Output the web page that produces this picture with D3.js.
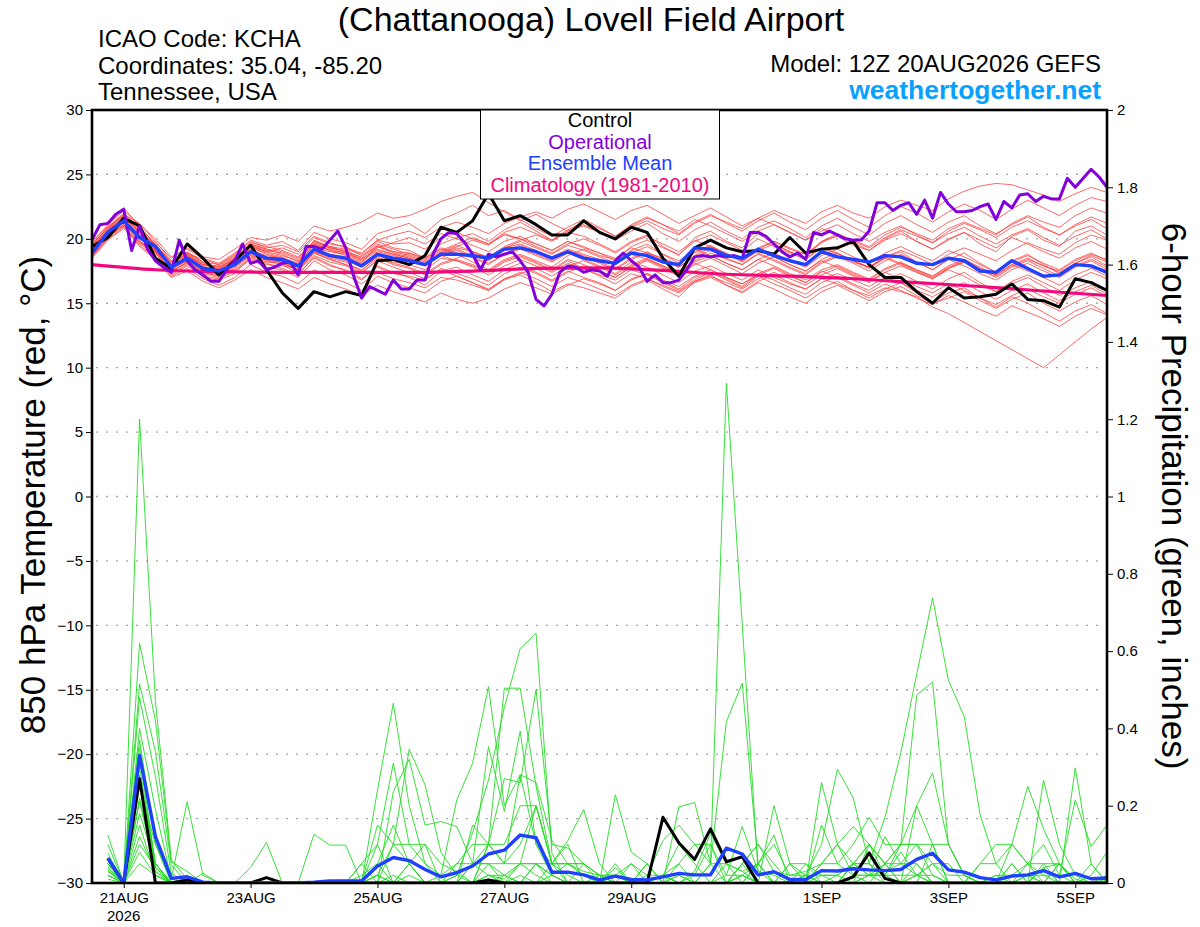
<!DOCTYPE html>
<html><head><meta charset="utf-8">
<script src="https://cdn.jsdelivr.net/npm/d3@7"></script>
<style>
body{margin:0;background:#fff}
svg{display:block}
text{font-family:"Liberation Sans",Arial,Helvetica,sans-serif}
</style>
</head><body>
<svg id="c" width="1200" height="927"></svg>
<script>
// ---------- DATA ----------
const runStart = "2026-08-20T12:00:00Z";
const stepHours = 6;          // ensemble output interval
const opStepHours = 3;        // operational output interval

const controlTemp = [19.4,20.1,21.6,21.0,18.5, 17.7,19.6,18.5,17.2,18.3, 19.5,17.6,15.8,14.6,15.9, 15.5,15.9,15.6,18.3,18.4,
  18.0,18.7,20.9,20.5,21.4, 23.5,21.4,21.8,21.1,20.3, 20.3,21.4,20.5,20.0,20.9, 20.5,18.5,17.1,19.3,19.9,
  19.3,19.0,19.1,18.8,20.1, 18.9,19.2,19.3,19.8,18.0, 17.0,17.0,15.9,15.0,16.2, 15.4,15.5,15.7,16.5,15.3, 15.2,14.7,16.9,16.6,16.0];

const operationalTemp = [19.9,21.1,21.2,21.9,22.3,19.1,21.0,19.2,18.3,17.8,17.4,19.9,18.3,17.6,17.2,16.7,16.7,17.6,18.3,19.6,
  18.1,18.3,17.6,17.8,18.1,18.2,17.2,19.4,19.4,19.2,19.9,20.6,19.3,17.1,15.4,16.3,16.0,15.7,16.8,16.1,
  16.1,16.8,16.8,18.8,20.0,20.5,20.4,19.7,18.8,17.6,18.8,18.6,18.8,19.0,18.3,17.4,15.3,14.8,15.7,17.4,
  17.9,17.8,17.4,17.6,17.5,17.1,18.3,18.9,18.3,17.8,16.7,17.2,16.6,16.6,16.8,17.6,18.6,18.7,18.6,18.7,
  18.6,18.7,18.5,20.5,20.5,20.2,19.6,19.0,18.6,18.9,18.4,20.5,20.3,20.6,20.3,20.0,19.9,19.9,20.6,22.8,
  22.8,22.2,22.6,22.8,21.9,23.0,21.6,23.6,22.7,22.1,22.1,22.2,22.5,22.7,21.5,22.9,22.4,23.4,23.5,22.9,
  23.3,23.1,23.1,24.7,24.0,24.7,25.4,24.8,24.0];

const meanTemp = [18.9,20.5,21.4,20.1,19.4, 17.8,18.5,17.7,17.5,18.0, 19.0,18.5,18.4,17.9,19.2, 18.7,18.5,17.9,18.8,18.5,
  18.3,18.0,18.8,18.8,18.7, 18.5,19.2,19.3,19.0,18.5, 19.0,18.5,18.3,18.1,18.9, 18.7,18.2,18.0,19.3,19.2,
  18.7,18.5,19.2,18.7,18.3, 18.0,19.0,18.6,18.4,18.2, 18.7,18.6,18.1,18.0,18.5, 18.3,17.5,17.4,18.3,17.7, 17.1,17.2,18.0,17.9,17.4];

// climatology, one value per day at 12Z
const climDaily = [18.0,17.6,17.45,17.4,17.4,17.4,17.5,17.7,17.75,17.55,17.25,17.1,16.9,16.6,16.3,15.95,15.6];

const memberTemp = [
 [19.5,20.8,21.9,21.2,19.8, 18.3,19.0,18.2,17.6,18.4, 19.6,19.2,18.8,18.2,19.9, 19.4,19.0,18.6,19.8,19.3, 19.1,18.5,19.6,20.1,20.4, 19.8,20.7,21.3,20.6,19.9, 20.5,20.2,19.6,19.0,19.8, 20.3,19.4,18.7,20.1,20.6, 19.8,19.3,20.4,19.6,19.0, 18.5,19.8,20.2,19.5,19.1, 20.0,20.6,19.8,19.2,19.9, 20.5,19.6,19.0,20.2,20.7, 19.9,19.4,20.6,21.0,20.3],
 [18.6,20.2,21.0,19.6,18.9, 17.2,17.9,17.1,16.9,17.5, 18.4,17.8,17.6,17.0,18.3, 17.6,17.2,16.5,17.4,16.9, 16.6,16.2,17.0,16.8,16.4, 16.0,16.9,17.2,16.6,15.9, 16.5,16.2,15.8,15.4,16.3, 16.8,16.1,15.5,16.7,17.2, 16.4,15.8,16.6,16.1,15.5, 15.0,15.9,16.4,15.8,15.2, 15.9,16.3,15.6,15.0,15.4, 15.9,15.2,14.6,15.3,15.8, 15.0,14.4,15.1,15.6,14.9],
 [19.8,21.0,22.4,21.0,19.5, 18.0,18.9,18.4,18.0,18.8, 19.9,19.5,19.8,19.1,20.5, 20.0,19.7,19.2,20.4,20.8, 21.2,20.4,21.5,22.0,22.6, 21.8,22.2,21.5,20.8,20.2, 20.9,21.5,20.9,20.2,21.0, 21.6,21.1,20.4,21.3,21.9, 21.2,20.6,21.4,22.0,21.3, 20.7,21.6,22.2,21.5,20.9, 21.8,22.5,22.0,21.3,22.1, 22.7,22.2,21.5,22.3,23.0, 22.4,21.8,22.6,23.2,22.9],
 [19.2,20.4,21.2,19.9,18.5, 17.5,18.1,17.0,16.8,17.3, 18.6,18.1,17.7,17.2,18.6, 18.0,17.5,16.8,17.9,17.4, 17.0,16.4,17.5,17.8,17.2, 16.7,17.6,18.1,17.4,16.8, 17.5,17.0,16.6,16.0,16.9, 17.3,16.7,16.1,17.0,17.4, 16.8,16.2,17.1,16.5,16.0, 15.4,16.2,16.7,16.0,15.4, 16.1,16.6,15.8,15.1,15.8, 16.2,15.4,14.7,15.5,15.0, 14.3,13.6,14.4,14.9,14.2],
 [19.0,20.6,21.6,20.5,19.6, 18.0,18.6,18.0,17.9,18.6, 19.5,19.0,19.3,18.8,20.1, 19.6,19.4,18.7,19.4,18.9, 18.6,18.1,18.9,19.4,19.9, 19.5,20.4,20.0,19.6,19.1, 19.8,19.4,18.9,18.3,19.1, 19.6,18.8,18.1,19.0,19.5, 18.8,18.2,19.1,18.6,18.0, 17.5,18.4,18.9,18.3,17.7, 18.5,19.0,18.2,17.6,18.4, 18.9,18.1,17.4,18.3,18.8, 18.0,17.3,18.1,18.6,17.9],
 [18.7,20.1,21.3,20.0,19.2, 17.6,18.3,17.5,17.3,17.9, 18.7,18.4,18.2,17.5,18.7, 18.2,17.9,17.3,18.4,18.2, 18.0,17.6,18.5,18.3,17.9, 17.4,18.2,18.6,18.1,17.5, 18.3,17.7,17.2,16.8,17.6, 17.2,16.6,16.0,16.8,17.4, 16.9,16.3,17.2,16.8,16.2, 15.7,16.6,17.1,16.5,16.0, 16.8,17.3,16.7,16.1,16.9, 17.4,16.6,15.9,16.5,17.0, 16.3,15.6,16.2,16.7,16.0],
 [19.3,20.7,21.8,20.4,19.0, 17.9,18.7,17.8,17.2,18.1, 19.2,18.6,18.1,17.6,19.0, 18.5,18.2,17.5,18.7,18.3, 18.9,18.4,19.3,18.9,18.5, 18.0,18.8,19.2,18.7,18.2, 18.9,18.4,17.9,17.3,18.2, 17.8,17.2,16.6,17.5,17.9, 17.3,16.8,17.6,17.0,16.5, 16.1,16.9,16.5,16.0,15.6, 16.2,15.9,15.5,14.7,14.2, 13.5,12.8,12.1,11.4,10.7, 10.0,11.0,12.0,13.0,13.9],
 [19.6,20.9,22.0,20.8,19.7, 18.5,19.3,18.6,18.4,19.2, 20.1,19.9,20.3,19.8,21.0, 20.6,20.9,21.3,22.0,21.6, 21.8,22.3,22.9,23.3,23.6, 22.8,22.1,21.4,21.9,21.2, 20.6,21.1,20.5,19.9,20.6, 21.2,20.4,19.8,20.7,21.3, 20.6,20.0,20.9,21.4,20.8, 20.1,21.0,21.6,20.9,20.3, 21.2,21.8,21.1,20.5,21.3, 21.8,21.0,20.4,21.1,21.7, 20.9,20.3,21.0,21.5,20.8],
 [19.1,20.5,21.5,20.3,19.3, 17.7,18.4,17.6,17.4,18.0, 19.1,18.7,18.5,18.0,19.3, 19.0,18.8,18.2,19.1,18.8, 18.5,18.0,18.9,19.3,19.0, 18.6,19.4,19.9,20.3,19.8, 20.6,21.0,20.5,20.0,20.9, 21.4,20.8,20.3,21.2,21.8, 21.3,20.8,21.6,22.2,21.7, 21.2,22.1,22.6,22.0,21.6, 22.5,23.0,22.6,22.2,23.1, 23.7,24.1,24.3,24.2,23.8, 23.4,22.9,23.5,24.0,23.6],
 [18.9,20.3,21.1,19.8,19.1, 17.4,18.2,17.3,17.0,17.6, 18.5,18.0,17.9,17.7,19.0, 18.6,18.3,17.8,18.6,18.1, 17.8,17.3,18.1,18.5,18.9, 18.4,19.3,19.6,19.1,18.6, 19.2,18.8,18.4,18.0,18.8, 18.4,17.9,17.4,18.3,18.9, 18.4,18.0,18.9,18.4,17.8, 17.3,18.2,18.7,18.2,17.8, 18.6,18.1,17.6,17.1,17.9, 18.4,17.8,17.2,18.0,17.5, 17.0,16.4,17.2,17.7,17.1],
 [19.4,20.6,21.7,20.6,19.4, 17.6,18.8,17.9,17.5,18.2, 19.3,18.9,18.6,18.0,19.6, 19.1,18.7,18.1,19.5,19.0, 18.9,18.5,19.2,18.8,18.2, 17.6,18.4,18.8,18.3,17.8, 18.7,19.2,18.7,18.4,19.4, 19.9,19.3,18.8,19.8,20.3, 19.7,19.1,20.0,19.4,18.9, 18.4,19.3,18.9,18.3,17.8, 18.5,18.0,17.4,16.9,17.6, 17.1,16.4,15.9,16.7,17.2, 16.6,16.0,16.8,17.4,16.9],
 [18.5,19.9,20.8,19.5,18.6, 17.1,17.7,16.9,16.4,17.0, 18.0,17.4,17.1,16.5,17.6, 17.0,16.6,16.0,17.1,16.6, 16.2,15.8,16.7,17.1,16.6, 16.0,16.8,17.3,17.7,17.1, 17.9,18.3,17.8,17.2,18.0, 18.5,17.9,17.3,18.2,18.7, 18.1,17.6,18.4,17.9,17.3, 16.8,17.6,18.0,17.4,16.9, 17.7,18.2,17.6,17.1,17.8, 18.3,17.7,17.2,18.0,18.5, 17.9,17.4,18.1,18.7,18.2],
 [19.7,21.1,22.2,21.1,20.0, 18.6,19.2,18.5,18.1,18.9, 19.8,19.3,19.5,19.0,20.2, 19.7,19.3,18.9,19.9,19.6, 19.7,19.2,20.1,20.5,20.0, 19.6,20.3,20.0,19.4,18.9, 19.6,20.0,19.5,18.9,19.7, 20.2,19.6,19.0,19.9,19.4, 18.8,18.4,19.3,19.8,19.2, 18.8,19.7,20.3,19.8,19.3, 20.1,20.7,20.2,19.7,20.6, 21.2,20.7,20.1,20.9,21.4, 20.8,20.3,21.1,21.7,21.2],
 [18.8,20.0,20.9,19.7,19.0, 17.3,18.0,17.4,17.2,17.8, 18.8,18.3,18.0,17.3,18.5, 17.9,17.6,16.9,17.8,17.3, 17.1,16.8,17.7,17.3,16.9, 16.4,17.3,17.8,17.3,16.7, 17.4,17.9,17.5,17.0,17.9, 18.4,17.8,17.2,18.1,17.6, 17.0,16.5,17.3,17.8,17.2, 16.6,17.5,17.0,16.4,15.8, 16.5,16.0,15.4,14.9,15.6, 15.1,14.5,14.0,14.8,14.3, 13.8,13.2,14.0,14.6,14.1],
 [19.3,20.4,21.5,20.2,19.4, 17.9,18.5,17.6,17.7,18.3, 19.4,18.8,18.5,18.1,19.5, 19.1,18.9,18.4,19.3,19.7, 20.1,19.6,20.4,20.0,19.5, 19.0,19.8,20.2,19.6,19.1, 19.8,19.3,18.9,18.5,19.3, 18.9,18.5,18.0,18.9,19.4, 18.9,18.3,19.1,19.6,19.0, 18.5,19.3,18.8,18.3,17.8, 18.6,19.1,18.6,18.0,18.8, 19.3,18.8,18.3,19.1,19.7, 19.2,18.8,19.7,20.3,19.9],
 [19.0,20.5,21.4,20.0,19.2, 17.7,18.4,17.7,17.3,17.9, 18.9,18.3,18.2,17.8,19.1, 18.7,18.4,17.9,18.9,18.5, 18.2,17.9,18.7,18.3,17.8, 17.2,17.9,18.4,17.9,17.4, 18.1,17.7,17.1,16.5,17.3, 16.9,16.4,15.9,16.7,17.1, 16.6,16.1,16.9,17.4,16.9, 16.4,17.2,17.7,17.1,16.6, 17.4,17.9,17.4,16.9,17.7, 18.2,17.6,17.1,17.9,18.4, 17.9,17.5,18.3,18.8,18.4],
 [19.5,20.9,21.9,20.7,19.6, 18.2,18.9,18.1,17.8,18.5, 19.5,19.1,18.9,18.4,19.7, 19.3,19.1,18.5,19.6,19.2, 18.8,18.3,19.1,19.6,20.1, 19.6,20.5,20.9,20.4,19.9, 20.7,21.3,20.8,20.2,21.1, 21.7,21.1,20.6,21.5,21.0, 20.4,19.8,20.6,21.1,20.5, 19.9,20.8,20.3,19.7,19.1, 19.9,20.4,19.8,19.2,20.0, 20.5,19.9,19.3,20.1,19.6, 19.0,18.5,19.3,19.8,19.2],
 [18.6,20.0,21.1,19.8,19.0, 17.5,18.2,17.4,17.1,17.7, 18.7,18.2,18.1,17.6,18.9, 18.4,18.0,17.4,18.3,17.8, 17.4,16.9,17.6,17.1,16.6, 16.1,16.9,17.4,16.9,16.3, 17.0,16.6,16.1,15.6,16.4, 16.9,16.3,15.8,16.6,17.0, 16.4,15.9,16.7,17.2,16.6, 16.1,16.9,17.3,16.8,16.3, 17.0,16.6,16.0,15.5,16.2, 16.6,15.9,15.3,16.0,16.5, 15.8,15.2,15.9,16.4,15.7],
 [19.2,20.6,21.7,20.5,19.5, 18.1,18.8,18.0,17.7,18.5, 19.6,19.2,19.0,18.5,19.8, 19.3,19.0,18.4,19.4,19.0, 18.7,18.2,19.0,19.5,19.0, 18.5,19.3,19.8,19.3,18.8, 19.5,19.1,18.6,18.1,18.9, 19.4,18.8,18.3,19.2,18.7, 18.1,17.6,18.4,18.9,18.3, 17.8,18.7,19.2,18.6,18.1, 18.9,19.4,18.8,18.3,19.1, 18.6,18.0,17.4,18.2,18.7, 18.1,17.6,18.4,18.9,18.3],
 [19.1,20.3,21.3,20.1,19.1, 17.8,18.5,17.8,17.6,18.2, 19.2,18.6,18.3,17.9,19.2, 18.8,18.6,18.0,19.0,18.7, 18.4,17.9,18.8,19.2,18.7, 18.3,19.1,19.5,19.0,18.4, 19.1,18.7,18.2,17.7,18.5, 19.0,18.4,17.8,18.6,19.1, 18.5,18.0,18.8,18.3,17.7, 17.2,18.1,18.6,18.1,17.5, 18.3,18.8,18.2,17.6,18.4, 17.9,17.3,16.8,17.6,18.1, 17.5,17.0,17.8,18.3,17.6],
 [19.0,20.2,21.0,19.4,18.4, 17.0,17.5,16.7,16.2,16.8, 17.6,17.0,16.6,16.1,17.0, 16.5,16.1,15.6,16.4,15.9, 15.5,15.1,15.8,15.3,15.0, 15.4,16.1,16.6,16.2,15.7, 16.4,16.9,16.5,16.0,16.8, 17.3,16.8,16.3,17.1,17.6, 17.0,16.5,17.2,17.7,17.1, 16.6,17.4,17.9,17.3,16.8, 17.6,18.1,17.5,17.0,17.7, 18.2,17.6,17.0,17.8,18.3, 17.7,17.1,17.9,18.4,17.8],
 [19.4,20.7,21.6,20.3,19.3, 18.0,18.9,18.2,18.0,18.7, 19.7,19.4,19.1,18.6,19.8, 19.4,19.2,18.8,19.9,20.3, 20.6,20.1,20.9,21.3,20.9, 20.4,21.2,21.7,22.1,21.6, 22.3,22.7,22.1,21.5,22.2, 22.6,21.9,21.2,21.8,22.4, 21.7,21.0,21.6,21.1,20.5, 19.9,20.6,21.1,20.4,19.8, 20.5,21.0,20.3,19.7,20.4, 20.9,20.2,19.6,20.3,20.8, 20.1,19.5,20.2,20.7,20.0],
 [18.9,20.4,21.5,20.2,19.3, 17.8,18.3,17.5,17.5,18.0, 19.0,18.5,18.3,17.6,18.9, 18.4,18.0,17.6,18.5,18.0, 17.7,17.2,18.0,18.4,18.0, 17.5,18.3,18.7,18.2,17.6, 18.4,18.0,17.5,17.0,17.8, 18.3,17.7,17.1,18.0,18.5, 17.9,17.3,18.1,18.6,18.0, 17.5,18.3,17.8,17.2,16.7, 17.4,16.9,16.3,15.8,16.5, 16.0,15.4,14.9,15.6,16.1, 15.5,15.0,15.7,16.2,15.5],
 [19.6,20.8,21.8,20.6,19.5, 18.2,18.7,18.0,17.8,18.4, 19.4,19.0,18.7,18.3,19.6, 19.2,18.9,18.3,19.2,18.8, 18.5,18.0,18.7,19.1,18.6, 18.1,18.8,19.3,18.8,18.3, 19.0,18.6,18.1,17.6,18.4, 18.9,18.3,17.8,18.7,19.3, 18.8,18.3,19.2,19.8,19.3, 18.8,19.8,20.4,19.9,19.4, 20.3,20.9,20.4,19.9,20.8, 21.3,20.8,20.3,21.2,21.8, 21.3,20.9,21.8,22.4,22.0]
];

// 6-hour precipitation (inches), valid 18Z 20AUG onward
const controlPrecip = [.064,0,.27,0,0,.008,0,0, 0,0,.014,0,0,0,0,0, 0,0,0,0,0,0,0,0, .008,0,0,0,0,0,0,0,
  0,0,0,.17,.104,.061,.14,.055, .068,0,0,0,0,0,0,.016, .078,.012,0,0,0,0,0,0, 0,0,0,0,0,0,0,0];
const meanPrecip = [.064,0,.33,.12,.012,.016,.002,0, 0,0,0,0,0,.002,.005,.005, .005,.044,.066,.058,.035,.016,.027,.044,
  .075,.085,.124,.117,.028,.028,.021,.008, .018,.009,.008,.016,.025,.021,.021,.09, .075,.021,.029,.009,.009,.032,.031,.037,
  .034,.032,.035,.061,.077,.034,.028,.014, .008,.018,.021,.032,.016,.025,.011,.013];
const memberPrecip = [
 [.05,0,1.2,.47,.06,.01,0,0, 0,0,0,0,0,0,0,0, 0,.02,.1,.05,0,0,.02,0, .1,.05,.28,.1,.02,0,0,0, 0,0,0,.02,.1,.05,0,.05, .03,0,0,0,0,.05,.1,.02, 0,0,0,.2,.1,.1,.02,0, 0,0,.05,.1,.02,0,0,0],
 [.124,0,.62,.42,.055,.03,0,0, 0,0,0,0,0,0,0,0, 0,.24,.465,.2,.05,0,0,0, .1,.504,.504,.25,.05,.02,0,0, 0,0,0,0,.02,0,.05,1.293, .67,.03,0,0,0,0,0,0, 0,.05,.1,.1,.02,0,0,0, 0,.1,.25,.14,.05,0,0,.02],
 [.1,0,.515,.34,.047,0,.025,0, 0,.04,.105,0,0,0,0,0, 0,0,.1,.346,.254,.08,.02,.13, .266,.454,.607,.646,.077,0,0,0, .05,0,0,.02,0,.03,.128,.05, 0,0,.2,.05,0,.26,.1,.146, .1,.02,.1,.486,.52,.1,.02,0, 0,0,0,.266,.1,.02,0,0],
 [.077,0,.48,.275,.025,0,0,0, 0,0,0,0,0,0,0,0, .05,.1,.31,.1,.05,.02,.215,.31, .508,.2,.28,.26,.11,.05,.02,0, .228,.08,.05,0,.05,.1,.05,.05, .03,.05,.124,0,0,.15,.05,.1, .17,.1,.1,.2,.285,.1,.02,0, 0,.05,0,.04,0,.298,.05,0],
 [.064,0,.40,.19,.01,.21,.02,0, 0,0,0,0,0,.126,.098,.098, 0,0,.236,.32,.15,.159,.146,.05, .353,.185,.393,.1,.05,.11,.19,.05, 0,0,0,0,.197,.208,.05,.417, .517,.05,.1,.02,.02,.1,.294,.22, .05,.17,.337,.54,.737,.525,.43,.176, .05,.1,.05,.02,.02,.215,.094,.15],
 [.05,0,.37,.1,0,0,0,0, 0,0,0,0,0,0,0,0, 0,.15,.1,.1,.1,0,0,.15, .1,.27,.26,.5,.1,.09,.05,.02, .02,.05,.02,.11,.15,.1,.1,.02, .146,.03,.02,0,0,.05,.05,.02, .02,.12,.05,.1,.1,0,0,0, 0,0,.02,0,0,0,.02,.08],
 [.034,0,.35,.11,0,0,0,0, 0,0,0,0,0,0,0,0, 0,.1,0,.02,0,0,0,0, 0,.02,.05,.2,.05,.05,.03,.02, 0,0,0,.02,0,.02,.1,0, .05,0,0,.05,.05,0,0,.05, .1,.05,0,.05,0,0,0,0, 0,0,0,.05,0,0,0,0],
 [.02,0,.33,.05,0,0,0,0, 0,0,0,0,0,0,0,0, .02,.05,.15,.05,0,.02,.05,.05, .1,.1,.2,.2,.05,.05,.05,0, .02,0,0,0,.02,0,0,0, .05,.1,.05,0,.02,.02,.02,.05, .05,.02,.02,.02,0,0,0,.05, .1,.1,.05,0,.05,0,0,0],
 [.06,0,.275,.04,0,0,0,0, 0,0,0,0,0,0,0,0, 0,.05,0,0,0,0,.05,.1, .1,.05,.1,.2,.05,0,0,.02, 0,0,0,0,0,0,0,0, .02,0,0,0,0,0,0,.05, .1,.05,.1,.1,.05,.05,0,0, 0,.05,0,0,0,0,0,0],
 [.03,0,.21,.04,0,0,0,0, 0,0,0,0,0,0,0,0, 0,0,0,.05,0,0,0,.05, .05,.02,0,.05,.02,.05,.02,0, 0,0,0,0,0,0,0,0, .02,0,0,0,0,.02,.02,0, .02,0,0,0,0,0,0,0, .02,0,0,0,.05,0,0,0],
 [.04,0,.12,.03,0,0,0,0, 0,0,0,0,0,0,0,0, 0,.02,0,0,0,0,0,0, 0,0,.02,0,.02,0,0,0, 0,0,0,0,0,0,0,0, 0,.05,0,0,0,0,0,0, 0,0,0,0,0,0,0,.05, .05,0,0,0,0,0,0,0],
 [.05,0,.1,.04,0,0,0,0, 0,0,0,0,0,0,0,0, 0,0,0,0,0,0,0,0, .02,0,0,0,.05,.1,0,0, .04,0,0,0,0,0,0,0, 0,0,0,0,0,0,0,0, 0,0,0,0,0,0,0,0, 0,0,0,0,0,0,0,0],
 [.02,0,.3,.05,0,0,0,0, 0,0,0,0,0,0,0,0, .05,0,0,.05,.1,.05,.03,0, .02,.02,0,.05,.05,.05,.05,.02, 0,.05,0,.02,.05,0,.05,0, .05,.1,.03,.02,.03,.05,.1,.05, .05,0,0,0,.1,0,0,0, .02,.02,.05,.05,.05,0,.05,0],
 [.06,0,.25,.1,.01,0,0,0, 0,0,0,0,0,0,0,0, 0,0,0,0,0,0,0,0, .05,.05,.05,.05,0,0,0,0, .02,0,.05,0,0,0,0,.02, .02,.05,0,.05,.02,0,0,.05, .02,.05,.05,.02,.02,0,0,0, 0,.02,.02,.02,0,0,0,0],
 [.05,0,.28,.05,0,0,0,0, 0,0,0,0,0,0,0,0, 0,0,0,0,0,0,0,.05, .02,.01,.05,.05,.02,0,.05,.02, .02,0,.02,.02,0,0,0,0, 0,0,0,0,0,0,.02,.05, .02,.02,.08,.02,.05,0,0,0, 0,0,.02,0,0,0,0,0],
 [.03,0,.22,.03,0,0,0,0, 0,0,0,0,0,0,0,0, 0,0,0,0,0,0,0,0, 0,0,0,0,0,0,0,0, 0,0,0,0,0,0,0,0, 0,0,0,0,0,0,0,0, .02,.03,.05,.05,0,0,0,0, 0,0,0,0,.05,0,0,0],
 [.04,0,.18,.05,0,0,0,0, 0,0,0,0,0,0,0,0, 0,0,0,0,0,0,.02,.05, .05,0,0,0,0,0,0,0, 0,0,0,0,0,0,0,0, 0,.05,0,0,.02,0,0,.02, .02,.02,0,.02,.05,.02,.02,0, 0,0,0,0,0,0,0,.01],
 [.01,0,.15,.02,0,0,0,0, 0,0,0,0,0,0,0,0, 0,.02,0,0,0,0,0,0, 0,0,.05,.02,0,0,0,0, 0,0,0,0,0,0,0,0, .02,0,0,0,0,0,0,0, 0,0,0,.02,0,0,0,0, 0,0,0,0,0,0,0,0],
 [.05,0,.08,.02,0,0,0,0, 0,0,0,0,0,0,0,0, 0,0,.02,0,0,0,0,0, 0,0,0,0,0,0,0,0, 0,0,.05,0,0,0,0,0, 0,0,0,0,.05,.02,0,0, .1,.05,0,0,0,0,0,0, 0,0,0,.04,.05,.01,0,0],
 [.02,0,.05,.02,0,0,0,0, 0,0,0,0,0,0,0,0, 0,0,0,0,0,0,0,0, 0,0,0,0,0,0,0,0, 0,0,0,0,0,0,0,0, 0,0,0,0,0,0,0,0, 0,0,0,0,0,0,0,0, 0,0,0,0,0,0,0,0]
];

const tempTicks = [-30,-25,-20,-15,-10,-5,0,5,10,15,20,25,30];
const precipTicks = [0,0.2,0.4,0.6,0.8,1,1.2,1.4,1.6,1.8,2];
const dateTicks = ["2026-08-21","2026-08-23","2026-08-25","2026-08-27","2026-08-29","2026-09-01","2026-09-03","2026-09-05"];
const dateTickLabels = ["21AUG","23AUG","25AUG","27AUG","29AUG","1SEP","3SEP","5SEP"];
const yearLabel = "2026";
const legendItems = [
  {label:"Control", color:"#000000"},
  {label:"Operational", color:"#8200dc"},
  {label:"Ensemble Mean", color:"#2040ff"},
  {label:"Climatology (1981-2010)", color:"#f0087c"}
];

// ---------- DRAWING ----------
const svg = d3.select("#c");
const L = 92, R = 1107, T = 110, B = 883;
const HR = 3600e3;
const t0 = new Date(runStart);
const tAt = (i, step) => new Date(+t0 + i * step * HR);

const x = d3.scaleUtc().domain([t0, tAt(64, stepHours)]).range([L, R]);
const yT = d3.scaleLinear().domain([-30, 30]).range([B, T]);
const yP = d3.scaleLinear().domain([0, 2]).range([B, T]);

svg.append("rect").attr("width",1200).attr("height",927).attr("fill","#fff");

// grid
svg.append("g").selectAll("line")
  .data(tempTicks.filter(v => v > -30 && v < 30))
  .join("line")
  .attr("x1", L + 4).attr("x2", R - 2)
  .attr("y1", d => yT(d)).attr("y2", d => yT(d))
  .attr("stroke", "#a6a6a6").attr("stroke-width", 1.3)
  .attr("stroke-dasharray", "2,8");

svg.append("clipPath").attr("id","clip").append("rect")
  .attr("x", L).attr("y", T).attr("width", R - L).attr("height", B - T);
const plot = svg.append("g").attr("clip-path","url(#clip)");

const tempLine = step => d3.line().x((d, i) => x(tAt(i, step))).y(d => yT(d));
const precLine = d3.line().x((d, i) => x(tAt(i + 1, stepHours))).y(d => yP(d));

// ensemble temperature members
plot.append("g").selectAll("path").data(memberTemp).join("path")
  .attr("d", tempLine(stepHours)).attr("fill","none")
  .attr("stroke","#ff3a3a").attr("stroke-width",0.9).attr("stroke-opacity",0.85);

// ensemble precip members
plot.append("g").selectAll("path").data(memberPrecip).join("path")
  .attr("d", precLine).attr("fill","none")
  .attr("stroke","#22dd22").attr("stroke-width",0.9);

// climatology
plot.append("path").datum(climDaily)
  .attr("d", d3.line().x((d, i) => x(tAt(i, 24))).y(d => yT(d)).curve(d3.curveMonotoneX))
  .attr("fill","none").attr("stroke", legendItems[3].color).attr("stroke-width",3.2);

// control
plot.append("path").datum(controlTemp).attr("d", tempLine(stepHours))
  .attr("fill","none").attr("stroke", legendItems[0].color).attr("stroke-width",3).attr("stroke-linejoin","round");
// operational
plot.append("path").datum(operationalTemp).attr("d", tempLine(opStepHours))
  .attr("fill","none").attr("stroke", legendItems[1].color).attr("stroke-width",3).attr("stroke-linejoin","round");
// ensemble mean
plot.append("path").datum(meanTemp).attr("d", tempLine(stepHours))
  .attr("fill","none").attr("stroke", legendItems[2].color).attr("stroke-width",3.4).attr("stroke-linejoin","round");

// precip control and mean
plot.append("path").datum(controlPrecip).attr("d", precLine)
  .attr("fill","none").attr("stroke","#000").attr("stroke-width",3).attr("stroke-linejoin","round");
plot.append("path").datum(meanPrecip).attr("d", precLine)
  .attr("fill","none").attr("stroke", legendItems[2].color).attr("stroke-width",3.4).attr("stroke-linejoin","round");

// axes
const gl = svg.append("g").attr("transform",`translate(${L},0)`)
  .call(d3.axisLeft(yT).tickValues(tempTicks).tickSize(6).tickPadding(3));
const gr = svg.append("g").attr("transform",`translate(${R},0)`)
  .call(d3.axisRight(yP).tickValues(precipTicks).tickSize(6).tickPadding(4)
    .tickFormat(d => String(+d.toFixed(1))));
const gb = svg.append("g").attr("transform",`translate(0,${B})`)
  .call(d3.axisBottom(x).tickValues(dateTicks.map(d => new Date(d + "T00:00:00Z")))
    .tickSize(5).tickPadding(4).tickFormat((d, i) => dateTickLabels[i]));
[gl, gr, gb].forEach(g => {
  g.select(".domain").remove();
  g.selectAll("text").attr("font-size", 15).attr("fill","#000")
    .attr("font-family", '"Liberation Sans", Arial, sans-serif');
  g.selectAll("line").attr("stroke","#000");
});
gb.append("text").attr("x", x(new Date(dateTicks[0] + "T00:00:00Z"))).attr("y", 38)
  .attr("text-anchor","middle").attr("font-size",15).attr("fill","#000")
  .attr("font-family",'"Liberation Sans", Arial, sans-serif').text(yearLabel);

// frame
svg.append("rect").attr("x", L).attr("y", T).attr("width", R - L).attr("height", B - T)
  .attr("fill","none").attr("stroke","#000").attr("stroke-width",2.6);

// legend
const lg = svg.append("g");
lg.append("rect").attr("x",480.5).attr("y",T).attr("width",239).attr("height",89)
  .attr("fill","#fff").attr("stroke","#000").attr("stroke-width",1);
lg.selectAll("text").data(legendItems).join("text")
  .attr("x", 600).attr("y", (d, i) => 127 + i * 21.7)
  .attr("text-anchor","middle").attr("font-size",20).attr("fill", d => d.color)
  .text(d => d.label);

// header texts
svg.append("text").attr("x",591).attr("y",31).attr("text-anchor","middle")
  .attr("font-size",34).text("(Chattanooga) Lovell Field Airport");
const hdr = [["ICAO Code: KCHA",47],["Coordinates: 35.04, -85.20",74],["Tennessee, USA",100]];
svg.append("g").selectAll("text").data(hdr).join("text")
  .attr("x",98).attr("y",d => d[1]).attr("font-size",24).text(d => d[0]);
svg.append("text").attr("x",1101).attr("y",72).attr("text-anchor","end")
  .attr("font-size",24).text("Model: 12Z 20AUG2026 GEFS");
svg.append("text").attr("x",1101).attr("y",99).attr("text-anchor","end")
  .attr("font-size",26.5).attr("font-weight","bold").attr("fill","#0aa0ff")
  .text("weathertogether.net");

// axis titles
svg.append("text").attr("transform","translate(45,495) rotate(-90)")
  .attr("text-anchor","middle").attr("font-size",35).text("850 hPa Temperature (red, °C)");
svg.append("text").attr("transform","translate(1162,496) rotate(90)")
  .attr("text-anchor","middle").attr("font-size",35).text("6-hour Precipitation (green, inches)");
</script>
</body></html>
